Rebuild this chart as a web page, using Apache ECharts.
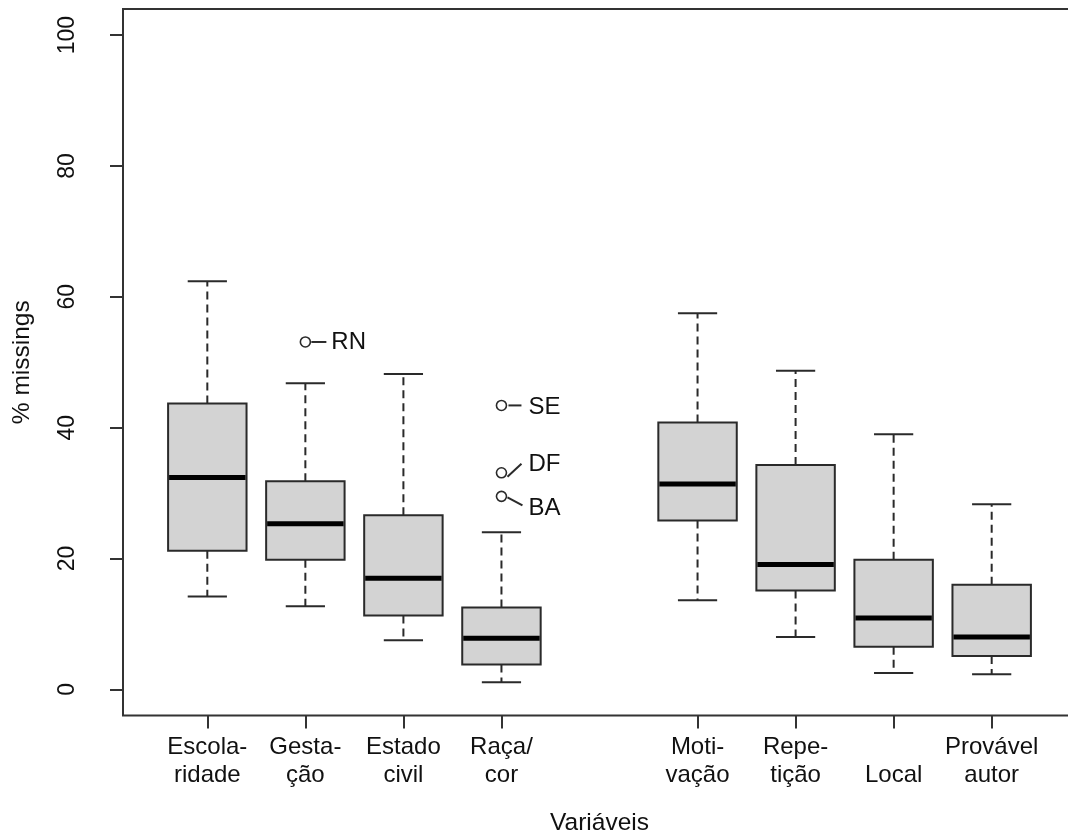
<!DOCTYPE html>
<html>
<head>
<meta charset="utf-8">
<script src="https://cdn.jsdelivr.net/npm/echarts@6/dist/echarts.min.js"></script>
<style>
  html, body { margin: 0; padding: 0; background: #fff; }
  #chart { width: 1068px; height: 832px; }
</style>
</head>
<body>
<div id="chart"></div>
<script>
// Percentage of missing values per variable (box-and-whisker summary)
const categories = ['Escola-\nridade', 'Gesta-\nção', 'Estado\ncivil', 'Raça/\ncor',
                    'Moti-\nvação', 'Repe-\ntição', '\nLocal', 'Provável\nautor'];
const positions   = [1, 2, 3, 4, 6, 7, 8, 9];
const whiskerLow  = [14.2, 12.7, 7.5, 1.1, 13.6, 8.0, 2.5, 2.3];
const quartile1   = [21.2, 19.8, 11.3, 3.8, 25.8, 15.1, 6.5, 5.1];
const median      = [32.4, 25.3, 17.0, 7.8, 31.4, 19.1, 10.9, 8.0];
const quartile3   = [43.7, 31.8, 26.6, 12.5, 40.8, 34.3, 19.8, 16.0];
const whiskerHigh = [62.4, 46.8, 48.2, 24.0, 57.5, 48.7, 39.0, 28.3];

// Outlying states
const outlierPos   = [2, 4, 4, 4];
const outlierValue = [53.1, 43.4, 33.1, 29.5];
const outlierName  = ['RN', 'SE', 'DF', 'BA'];

const yTicks = [0, 20, 40, 60, 80, 100];

// Leader line / label offsets (pixels) for each outlier label
const calloutStyle = {
  RN: { line: [6, 0, 21, 0],  text: [26, 0] },
  SE: { line: [7, 0, 20, 0],  text: [27, 2] },
  DF: { line: [6, 4, 20, -9], text: [27, -8] },
  BA: { line: [6, 1, 21, 9],  text: [27, 12] }
};

const FONT = '"Liberation Sans", Arial, sans-serif';
const INK = '#2a2a2a';
const LW = 2;

const boxData = positions.map((p, i) =>
  [p, whiskerLow[i], quartile1[i], median[i], quartile3[i], whiskerHigh[i]]);
const outlierData = outlierPos.map((p, i) => [p, outlierValue[i], i]);

function renderBox(params, api) {
  const x = api.value(0);
  const lo = api.coord([x, api.value(1)]);
  const q1 = api.coord([x, api.value(2)]);
  const md = api.coord([x, api.value(3)]);
  const q3 = api.coord([x, api.value(4)]);
  const hi = api.coord([x, api.value(5)]);
  const bw = api.size([0.8, 0])[0];
  const sw = api.size([0.4, 0])[0];
  const cx = lo[0];
  const thin = { stroke: INK, lineWidth: LW };
  const dash = { stroke: INK, lineWidth: LW, lineDash: [8, 5] };
  return {
    type: 'group',
    children: [
      { type: 'line', shape: { x1: cx, y1: q3[1], x2: cx, y2: hi[1] }, style: dash },
      { type: 'line', shape: { x1: cx, y1: q1[1], x2: cx, y2: lo[1] }, style: dash },
      { type: 'line', shape: { x1: cx - sw / 2, y1: hi[1], x2: cx + sw / 2, y2: hi[1] }, style: thin },
      { type: 'line', shape: { x1: cx - sw / 2, y1: lo[1], x2: cx + sw / 2, y2: lo[1] }, style: thin },
      { type: 'rect', shape: { x: cx - bw / 2, y: q3[1], width: bw, height: q1[1] - q3[1] },
        style: { fill: '#d3d3d3', stroke: INK, lineWidth: LW } },
      { type: 'line', shape: { x1: cx - bw / 2 + 1, y1: md[1], x2: cx + bw / 2 - 1, y2: md[1] },
        style: { stroke: '#000', lineWidth: 5 } }
    ]
  };
}

function renderCallout(params, api) {
  const pt = api.coord([api.value(0), api.value(1)]);
  const name = outlierName[api.value(2)];
  const s = calloutStyle[name];
  return {
    type: 'group',
    children: [
      { type: 'line',
        shape: { x1: pt[0] + s.line[0], y1: pt[1] + s.line[1], x2: pt[0] + s.line[2], y2: pt[1] + s.line[3] },
        style: { stroke: INK, lineWidth: LW } },
      { type: 'text', x: pt[0] + s.text[0], y: pt[1] + s.text[1],
        style: { text: name, fill: '#111', fontSize: 24, fontFamily: FONT,
                 align: 'left', verticalAlign: 'middle' } }
    ]
  };
}

const chart = echarts.init(document.getElementById('chart'), null, { renderer: 'canvas' });
chart.setOption({
  backgroundColor: '#fff',
  animation: false,
  grid: {
    left: 123, top: 9, width: 953, height: 706.5,
    outerBoundsMode: 'none', containLabel: false,
    show: true, borderColor: '#333', borderWidth: 2, backgroundColor: 'transparent'
  },
  xAxis: {
    type: 'value', min: 0.14, max: 9.86,
    name: 'Variáveis', nameLocation: 'middle', nameGap: 95,
    nameTextStyle: { fontSize: 24.5, fontFamily: FONT, color: '#111' },
    axisLine: { show: false, onZero: false },
    splitLine: { show: false },
    axisTick: { show: true, length: 13, customValues: positions,
                lineStyle: { color: '#333', width: LW } },
    axisLabel: {
      customValues: positions, margin: 18, fontSize: 24, lineHeight: 28,
      fontFamily: FONT, color: '#111',
      formatter: v => categories[positions.indexOf(Math.round(v))]
    }
  },
  yAxis: {
    type: 'value', min: -4, max: 104,
    name: '% missings', nameLocation: 'middle', nameGap: 88, nameRotate: 90,
    nameTextStyle: { fontSize: 24.5, fontFamily: FONT, color: '#111' },
    axisLine: { show: false, onZero: false },
    splitLine: { show: false },
    axisTick: { show: true, length: 13, customValues: yTicks,
                lineStyle: { color: '#333', width: LW } },
    axisLabel: { customValues: yTicks, rotate: 90, margin: 44, fontSize: 23,
                 fontFamily: FONT, color: '#111' }
  },
  series: [
    { type: 'custom', name: 'box', renderItem: renderBox, data: boxData,
      encode: { x: 0, y: [1, 2, 3, 4, 5] }, z: 2 },
    { type: 'scatter', name: 'outliers', data: outlierData,
      symbol: 'circle', symbolSize: 10,
      itemStyle: { color: '#fff', borderColor: INK, borderWidth: 1.6, opacity: 1 }, z: 3 },
    { type: 'custom', name: 'labels', renderItem: renderCallout, data: outlierData,
      encode: { x: 0, y: 1 }, z: 3 }
  ]
});
</script>
</body>
</html>
